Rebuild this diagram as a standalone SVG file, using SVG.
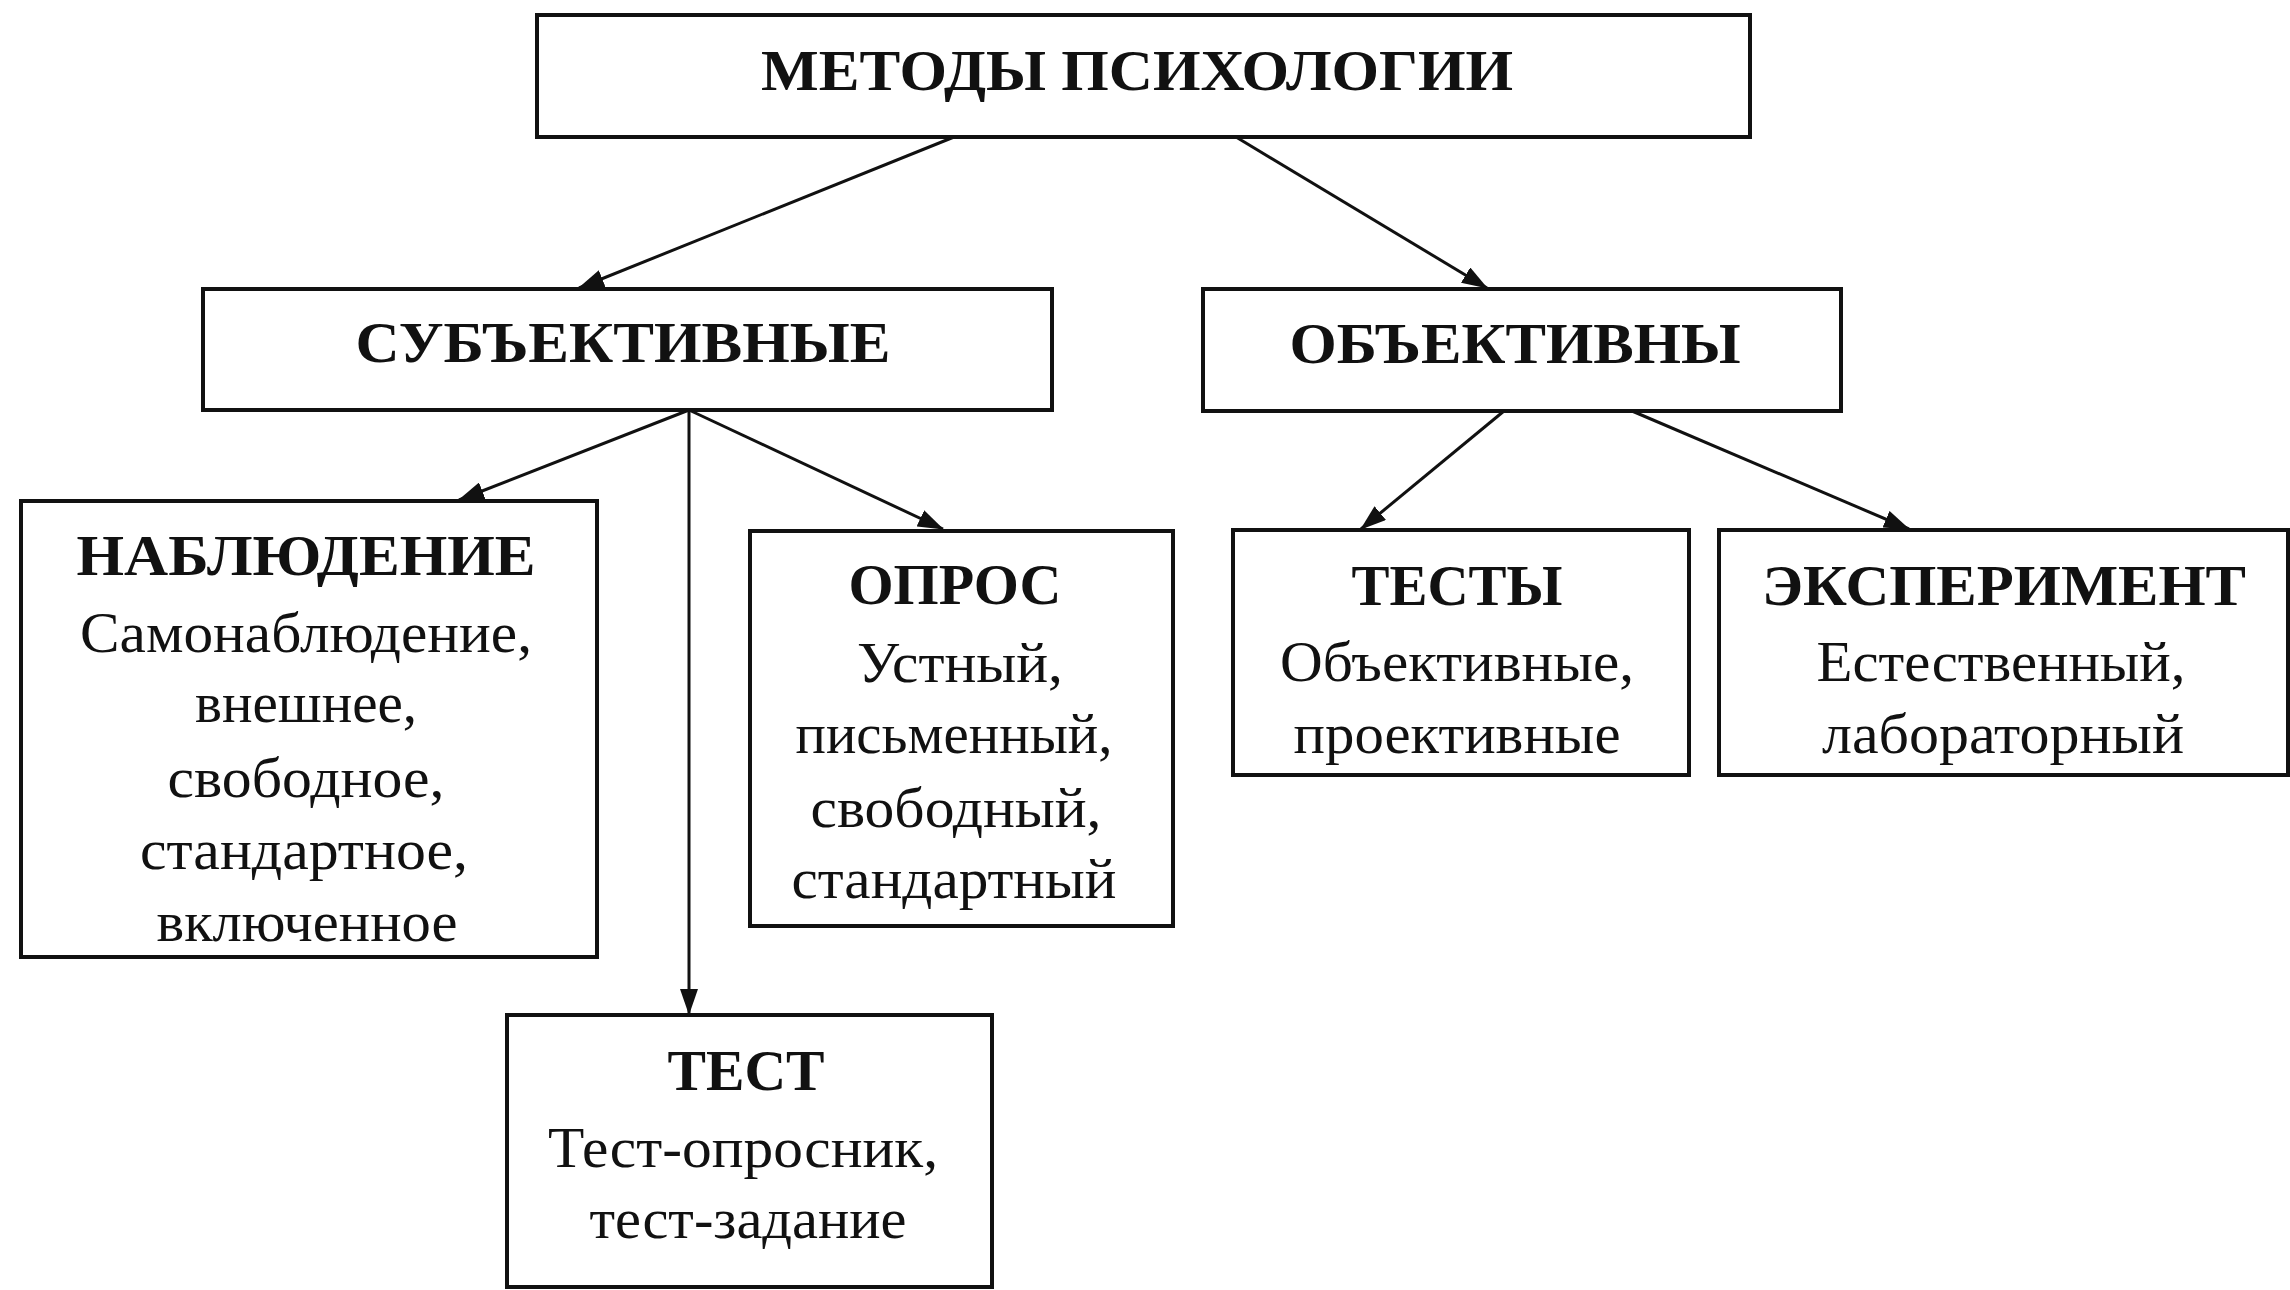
<svg xmlns="http://www.w3.org/2000/svg" width="2290" height="1290" viewBox="0 0 2290 1290">
<style>
.box{fill:#fff;stroke:#111;stroke-width:4}
.h{font-family:"Liberation Serif","Times New Roman",serif;font-weight:bold;font-size:58px;fill:#111;text-anchor:middle}
.b{font-family:"Liberation Serif","Times New Roman",serif;font-size:58px;fill:#111;text-anchor:middle}
.c{stroke:#111;stroke-width:3;fill:none;marker-end:url(#arr)}
</style>
<defs>
<marker id="arr" viewBox="0 0 26 18" markerWidth="26" markerHeight="18" refX="25" refY="9" orient="auto" markerUnits="userSpaceOnUse">
<path d="M0,0 L26,9 L0,18 z" fill="#111"/>
</marker>
</defs>
<rect width="2290" height="1290" fill="#fff"/>
<g id="connectors">
<line class="c" x1="954" y1="137" x2="579" y2="288"/>
<line class="c" x1="1236" y1="137" x2="1487" y2="288"/>
<line class="c" x1="689" y1="410" x2="459" y2="500"/>
<line class="c" x1="689" y1="410" x2="943" y2="529"/>
<line class="c" x1="689" y1="410" x2="689" y2="1014"/>
<line class="c" x1="1504" y1="411" x2="1361" y2="529"/>
<line class="c" x1="1632" y1="411" x2="1909" y2="529"/>
</g>
<g id="root">
<rect class="box" x="537" y="15" width="1213" height="122"/>
<text class="h" x="1137" y="90" textLength="752" lengthAdjust="spacingAndGlyphs">МЕТОДЫ ПСИХОЛОГИИ</text>
</g>
<g id="subj">
<rect class="box" x="203" y="289" width="849" height="121"/>
<text class="h" x="623" y="362" textLength="535" lengthAdjust="spacingAndGlyphs">СУБЪЕКТИВНЫЕ</text>
</g>
<g id="obj">
<rect class="box" x="1203" y="289" width="638" height="122"/>
<text class="h" x="1515" y="363" textLength="451" lengthAdjust="spacingAndGlyphs">ОБЪЕКТИВНЫ</text>
</g>
<g id="observation">
<rect class="box" x="21" y="501" width="576" height="456"/>
<text class="h" x="306" y="575" textLength="459" lengthAdjust="spacingAndGlyphs">НАБЛЮДЕНИЕ</text>
<text class="b" x="306" y="652" textLength="452" lengthAdjust="spacingAndGlyphs">Самонаблюдение,</text>
<text class="b" x="306" y="722" textLength="222" lengthAdjust="spacingAndGlyphs">внешнее,</text>
<text class="b" x="306" y="797" textLength="277" lengthAdjust="spacingAndGlyphs">свободное,</text>
<text class="b" x="304" y="869" textLength="328" lengthAdjust="spacingAndGlyphs">стандартное,</text>
<text class="b" x="307" y="941" textLength="301" lengthAdjust="spacingAndGlyphs">включенное</text>
</g>
<g id="survey">
<rect class="box" x="750" y="531" width="423" height="395"/>
<text class="h" x="955" y="604" textLength="213" lengthAdjust="spacingAndGlyphs">ОПРОС</text>
<text class="b" x="960" y="682" textLength="206" lengthAdjust="spacingAndGlyphs">Устный,</text>
<text class="b" x="954" y="753" textLength="317" lengthAdjust="spacingAndGlyphs">письменный,</text>
<text class="b" x="956" y="827" textLength="291" lengthAdjust="spacingAndGlyphs">свободный,</text>
<text class="b" x="954" y="898" textLength="325" lengthAdjust="spacingAndGlyphs">стандартный</text>
</g>
<g id="test">
<rect class="box" x="507" y="1015" width="485" height="272"/>
<text class="h" x="746" y="1090" textLength="157" lengthAdjust="spacingAndGlyphs">ТЕСТ</text>
<text class="b" x="743" y="1167" textLength="390" lengthAdjust="spacingAndGlyphs">Тест-опросник,</text>
<text class="b" x="748" y="1238" textLength="317" lengthAdjust="spacingAndGlyphs">тест-задание</text>
</g>
<g id="tests">
<rect class="box" x="1233" y="530" width="456" height="245"/>
<text class="h" x="1457" y="605" textLength="211" lengthAdjust="spacingAndGlyphs">ТЕСТЫ</text>
<text class="b" x="1457" y="681" textLength="354" lengthAdjust="spacingAndGlyphs">Объективные,</text>
<text class="b" x="1457" y="753" textLength="327" lengthAdjust="spacingAndGlyphs">проективные</text>
</g>
<g id="experiment">
<rect class="box" x="1719" y="530" width="569" height="245"/>
<text class="h" x="2004" y="605" textLength="484" lengthAdjust="spacingAndGlyphs">ЭКСПЕРИМЕНТ</text>
<text class="b" x="2001" y="681" textLength="369" lengthAdjust="spacingAndGlyphs">Естественный,</text>
<text class="b" x="2003" y="753" textLength="362" lengthAdjust="spacingAndGlyphs">лабораторный</text>
</g>
</svg>
